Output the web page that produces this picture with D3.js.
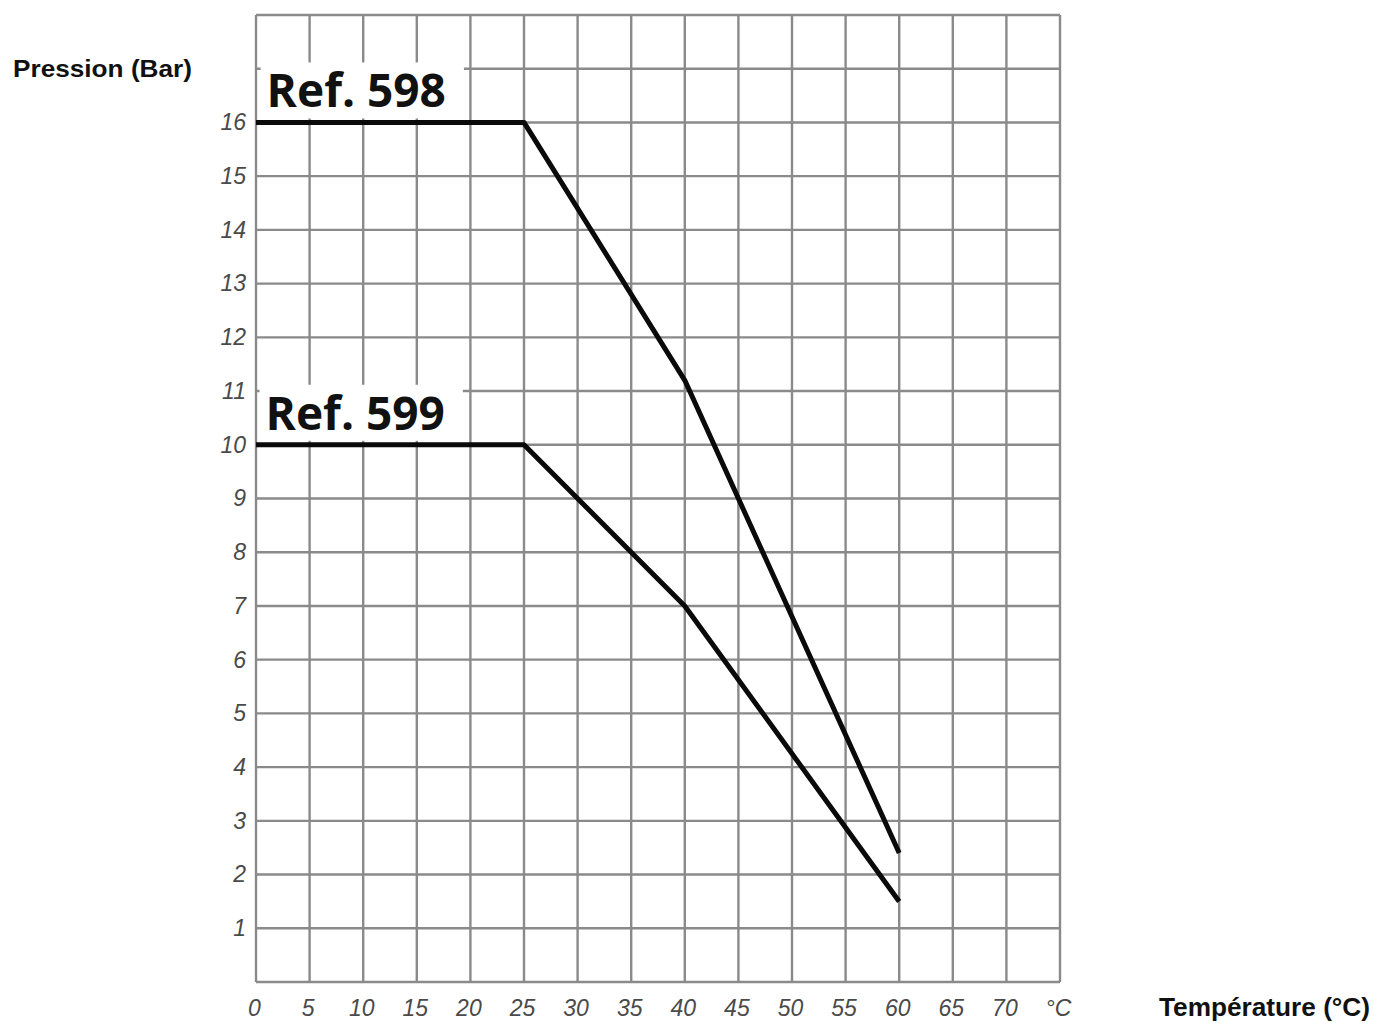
<!DOCTYPE html>
<html>
<head>
<meta charset="utf-8">
<script src="https://cdn.jsdelivr.net/npm/d3@7"></script>
<style>
  html, body { margin: 0; padding: 0; background: #fff; }
  svg { display: block; }
</style>
</head>
<body>
<svg id="chart" width="1374" height="1023"></svg>
<script>
// Data
const xTickValues = [0, 5, 10, 15, 20, 25, 30, 35, 40, 45, 50, 55, 60, 65, 70, 75];
const xTickLabels = ["0", "5", "10", "15", "20", "25", "30", "35", "40", "45", "50", "55", "60", "65", "70", "°C"];
const yTickValues = [1, 2, 3, 4, 5, 6, 7, 8, 9, 10, 11, 12, 13, 14, 15, 16];
const seriesNames = ["Ref. 598", "Ref. 599"];
const ref598Temp = [0, 25, 40, 60];
const ref598Press = [16, 16, 11.2, 2.4];
const ref599Temp = [0, 25, 40, 60];
const ref599Press = [10, 10, 7, 1.5];
const labelAnchor = [{t: 0.15, p: 16}, {t: 0.05, p: 10}];

const svg = d3.select("#chart");
const mLeft = 256, mRight = 1060, mTop = 15, mBottom = 982;

const x = d3.scaleLinear().domain([0, 75]).range([mLeft, mRight]);
const y = d3.scaleLinear().domain([0, 18]).range([mBottom, mTop]);

// Grid
const gridColor = "#8a8a8a";
const gGrid = svg.append("g");
d3.range(0, 76, 5).forEach(v => {
  gGrid.append("line").attr("x1", x(v)).attr("x2", x(v)).attr("y1", mTop).attr("y2", mBottom)
    .attr("stroke", gridColor).attr("stroke-width", 2.4);
});
d3.range(0, 19, 1).forEach(v => {
  gGrid.append("line").attr("x1", mLeft).attr("x2", mRight).attr("y1", y(v)).attr("y2", y(v))
    .attr("stroke", gridColor).attr("stroke-width", 2.4);
});

// Axes (labels only)
const xAxis = d3.axisBottom(x).tickValues(xTickValues).tickSize(0).tickPadding(0)
  .tickFormat((d, i) => xTickLabels[i]);
const gx = svg.append("g").attr("transform", `translate(0,${mBottom + 18})`).call(xAxis);
gx.select(".domain").remove();
gx.selectAll("text").attr("font-family", "Liberation Sans, Arial, sans-serif")
  .attr("font-style", "italic").attr("font-size", 23).attr("fill", "#4a4a4a")
  .attr("dy", "0.71em").attr("dx", -2);

const yAxis = d3.axisLeft(y).tickValues(yTickValues).tickSize(0).tickPadding(10);
const gy = svg.append("g").attr("transform", `translate(${mLeft},0)`).call(yAxis);
gy.select(".domain").remove();
gy.selectAll("text").attr("font-family", "Liberation Sans, Arial, sans-serif")
  .attr("font-style", "italic").attr("font-size", 23).attr("fill", "#4a4a4a");

// Series labels with white background
const series = [
  {name: seriesNames[0], t: ref598Temp, p: ref598Press},
  {name: seriesNames[1], t: ref599Temp, p: ref599Press}
];
const gLabels = svg.append("g");
series.forEach((s, i) => {
  const a = labelAnchor[i];
  const grp = gLabels.append("g");
  const rect = grp.append("rect").attr("fill", "#fff");
  const tx = grp.append("text").attr("x", x(a.t) + 9).attr("y", y(a.p) - 15)
    .attr("font-family", "Open Sans, Noto Sans, sans-serif").attr("font-weight", "bold")
    .attr("font-size", 46).attr("fill", "#111").text(s.name);
  const bb = tx.node().getBBox();
  rect.attr("x", bb.x - 6).attr("y", bb.y + 4)
    .attr("width", bb.width + 24).attr("height", y(a.p) - bb.y - 8);
});

// Lines
const line = d3.line().x(d => x(d[0])).y(d => y(d[1]));
series.forEach(s => {
  svg.append("path").datum(s.t.map((t, j) => [t, s.p[j]]))
    .attr("d", line).attr("fill", "none").attr("stroke", "#0a0a0a")
    .attr("stroke-width", 5).attr("stroke-linejoin", "round");
});

// Axis titles
svg.append("text").attr("x", 13).attr("y", 77)
  .attr("font-family", "Liberation Sans, Arial, sans-serif").attr("font-weight", "bold")
  .attr("font-size", 24).attr("fill", "#111")
  .attr("textLength", 179).attr("lengthAdjust", "spacingAndGlyphs").text("Pression (Bar)");
svg.append("text").attr("x", 1159).attr("y", 1016)
  .attr("font-family", "Liberation Sans, Arial, sans-serif").attr("font-weight", "bold")
  .attr("font-size", 25).attr("fill", "#111")
  .attr("textLength", 211).attr("lengthAdjust", "spacingAndGlyphs").text("Température (°C)");
</script>
</body>
</html>
